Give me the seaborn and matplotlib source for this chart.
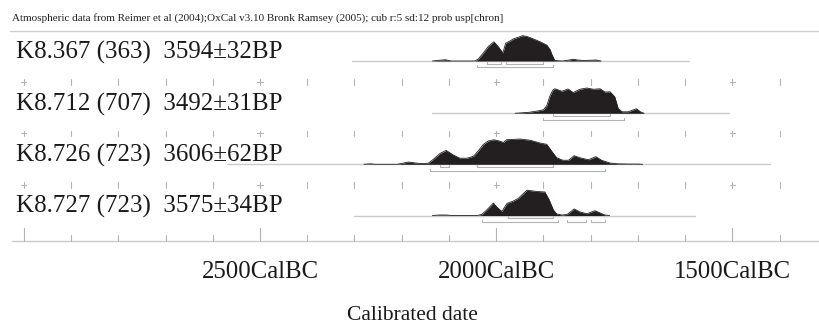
import numpy as np
import matplotlib
matplotlib.use("Agg")
import matplotlib.pyplot as plt
import seaborn as sns

# ---- sample labels -------------------------------------------------------
names = ["K8.367 (363)", "K8.712 (707)", "K8.726 (723)", "K8.727 (723)"]
bp_ages = [3594, 3492, 3606, 3575]
bp_errors = [32, 31, 62, 34]

# ---- calibrated probability distributions (year AD, negative = BC) ------
r1_years = [-2135, -2120, -2108, -2095, -2045, -2038, -2028, -2017, -2005, -1995,
            -1986, -1980, -1970, -1964, -1955, -1944, -1935, -1925, -1907, -1893,
            -1886, -1882, -1876, -1860, -1845, -1837, -1828, -1815, -1800, -1789,
            -1778]
r1_prob = [0, 0.03, 0.05, 0, 0, 0.08, 0.30, 0.57, 0.76, 0.55,
           0.32, 0.70, 0.80, 0.87, 0.93, 1.0, 0.97, 0.90, 0.76, 0.63,
           0.45, 0.25, 0.02, 0.0, 0.04, 0.07, 0.04, 0.02, 0.03, 0.04,
           0]

r2_years = [-1960, -1930, -1910, -1900, -1893, -1886, -1880, -1876, -1868, -1861,
            -1854, -1848, -1837, -1823, -1808, -1794, -1780, -1770, -1759, -1749,
            -1742, -1734, -1721, -1712, -1703, -1694, -1687]
r2_prob = [0, 0.04, 0.10, 0.14, 0.30, 0.70, 0.92, 0.97, 0.92, 0.87,
           0.92, 0.96, 0.82, 0.95, 1.0, 0.95, 0.97, 0.84, 0.85, 0.65,
           0.20, 0.06, 0.06, 0.12, 0.18, 0.05, 0]

r3_years = [-2280, -2267, -2255, -2210, -2196, -2186, -2170, -2161, -2144, -2133,
            -2119, -2106, -2091, -2077, -2062, -2048, -2038, -2027, -2017, -2005,
            -1993, -1985, -1978, -1950, -1928, -1907, -1893, -1883, -1872, -1859,
            -1847, -1835, -1823, -1805, -1789, -1777, -1759, -1742, -1720, -1700,
            -1690]
r3_prob = [0, 0.02, 0, 0, 0.05, 0.09, 0.05, 0.03, 0.04, 0.20,
           0.43, 0.55, 0.37, 0.24, 0.24, 0.32, 0.53, 0.79, 0.92, 0.97,
           0.92, 0.86, 0.97, 1.0, 0.95, 0.84, 0.79, 0.53, 0.26, 0.16,
           0.16, 0.34, 0.26, 0.18, 0.30, 0.16, 0.05, 0.02, 0.01, 0.01,
           0]

r4_years = [-2135, -2120, -2105, -2095, -2040, -2031, -2020, -2006, -1998, -1988,
            -1977, -1964, -1953, -1944, -1935, -1914, -1897, -1888, -1879, -1872,
            -1861, -1850, -1835, -1823, -1808, -1791, -1780, -1770, -1760]
r4_prob = [0, 0.02, 0.02, 0, 0, 0.04, 0.22, 0.49, 0.32, 0.16,
           0.48, 0.57, 0.68, 0.84, 1.0, 0.95, 0.93, 0.62, 0.22, 0.06,
           0.02, 0.04, 0.26, 0.14, 0.07, 0.19, 0.10, 0.02, 0]

# extent of the calibration curve drawn under each distribution
curve_spans = [(-2305, -1592), (-2136, -1507), (-2570, -1420), (-2301, -1579)]

# highest probability ranges (68.2% and 95.4%)
ranges_68 = [[(-2020, -1990), (-1980, -1900)],
             [(-1880, -1760)],
             [(-2120, -2100), (-2040, -1880)],
             [(-1975, -1880)]]
ranges_95 = [[(-2040, -1880)],
             [(-1900, -1730)],
             [(-2140, -1770)],
             [(-2030, -1870), (-1850, -1810), (-1800, -1770)]]

axis_label = "Calibrated date"
header = ("Atmospheric data from Reimer et al (2004);OxCal v3.10 Bronk Ramsey (2005); "
          "cub r:5 sd:12 prob usp[chron]")

# ---- figure --------------------------------------------------------------
sns.set_theme(style="white")
plt.rcParams["font.family"] = ["Liberation Serif", "DejaVu Serif"]

W, H = 819, 325
fig = plt.figure(figsize=(W / 100, H / 100), dpi=100)
ax = fig.add_axes([0, 0, 1, 1])
ax.set_xlim(-3050.4, -1316.7)
ax.set_ylim(H, 0)          # y measured downward from the top edge
ax.axis("off")

px_per_year = 0.4724
fill_col = "#231f20"
line_col = "#cbcbcb"
tick_col = "#b3b3b3"

baselines = [61.0, 113.3, 164.3, 215.5]
peak_h = 25.3
tick_rows = [82.0, 133.3, 185.0]
axis_y = 241.0

series = [(r1_years, r1_prob), (r2_years, r2_prob),
          (r3_years, r3_prob), (r4_years, r4_prob)]

# header and separator
fig.text(12.5 / W, 1 - 20.5 / H, header, fontsize=8.0, color="#222222",
         ha="left", va="baseline")
ax.plot([-3050.4 + 10 / px_per_year, -1316.7], [30.5, 30.5], color="#d0d0d0", lw=1)

for i, (yrs, prob) in enumerate(series):
    base = baselines[i]
    s, e = curve_spans[i]
    ax.plot([s, e], [base, base], color=line_col, lw=1, zorder=1)
    yrs = np.asarray(yrs, float)
    top = base - np.asarray(prob, float) * peak_h
    ax.fill_between(yrs, base, top, color=fill_col, lw=0, zorder=2)
    sns.lineplot(x=yrs, y=top, ax=ax, color=fill_col, lw=0.6,
                 estimator=None, sort=False, zorder=3)

    # range brackets
    for off, rngs in ((2.9, ranges_68[i]), (6.4, ranges_95[i])):
        yb = base + off
        for a, b in rngs:
            ax.plot([a, a, b, b], [yb - 2, yb, yb, yb - 2],
                    color=tick_col, lw=0.8, zorder=1)

    label = f"{names[i]}  {bp_ages[i]}\u00b1{bp_errors[i]}BP"
    fig.text(16.5 / W, 1 - (base - 2.5) / H, label, fontsize=18.0,
             color="#1a1a1a", ha="left", va="baseline")

# tick rows between the samples
tick_years = np.arange(-3000, -1399, 100)
for ty in tick_rows:
    for yr in tick_years:
        ax.plot([yr, yr], [ty - 2.6, ty + 2.6], color=tick_col, lw=0.8)
        if yr % 500 == 0:
            d = 2.6 / px_per_year
            ax.plot([yr - d, yr + d], [ty, ty], color=tick_col, lw=0.8)

# calendar axis
ax.plot([-3050.4 + 12 / px_per_year, -1316.7], [axis_y, axis_y],
        color=line_col, lw=1)
for yr in tick_years:
    h = 13.5 if yr % 500 == 0 else 6.0
    ax.plot([yr, yr], [axis_y - h, axis_y], color=tick_col, lw=0.8)
    if yr % 500 == 0 and yr > -3000:
        ax.text(yr, 278.5, f"{-yr}CalBC", fontsize=17.8, color="#1a1a1a",
                ha="center", va="baseline")

ax.text(-3050.4 + 412 / px_per_year, 320.5, axis_label, fontsize=15.5,
        color="#1a1a1a", ha="center", va="baseline")

fig.savefig("out.png", dpi=100)
